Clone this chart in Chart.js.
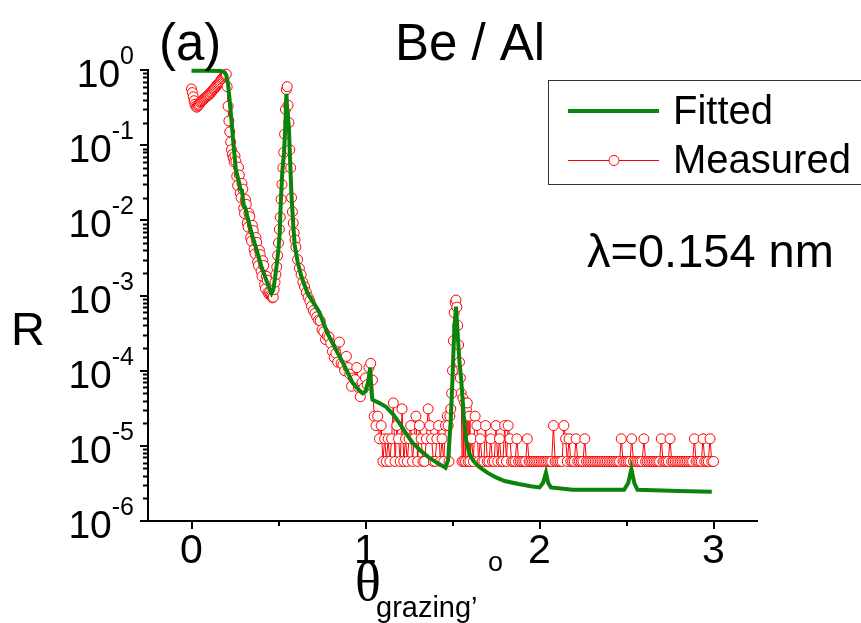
<!DOCTYPE html>
<html>
<head>
<meta charset="utf-8">
<script src="https://cdn.jsdelivr.net/npm/chart.js@4.4.1/dist/chart.umd.min.js"></script>
<style>
  body { margin: 0; background: #fff; }
  canvas { display: block; }
</style>
</head>
<body>
<canvas id="chart" width="861" height="623"></canvas>
<script>
// count levels of the measured reflectivity (1..6 counts)
const c1 = 6.2e-6, c2 = 1.24e-5, c3 = 1.86e-5, c4 = 2.48e-5, c5 = 3.1e-5, c6 = 3.72e-5;

// Measured (red circles)
const measTheta = [
  0, 0.005, 0.01, 0.015, 0.02, 0.025, 0.03, 0.035, 0.04, 0.045,
  0.05, 0.055, 0.06, 0.065, 0.07, 0.075, 0.08, 0.085, 0.09, 0.095,
  0.1, 0.105, 0.11, 0.115, 0.12, 0.125, 0.13, 0.135, 0.14, 0.145,
  0.15, 0.155, 0.16, 0.165, 0.17, 0.175, 0.18, 0.185, 0.19, 0.195,
  0.2, 0.205, 0.21, 0.215, 0.22, 0.225, 0.23, 0.235, 0.24, 0.245,
  0.25, 0.255, 0.26, 0.265, 0.27, 0.275, 0.28, 0.285, 0.29, 0.295,
  0.3, 0.305, 0.31, 0.315, 0.32, 0.325, 0.33, 0.335, 0.34, 0.345,
  0.35, 0.355, 0.36, 0.365, 0.37, 0.375, 0.38, 0.385, 0.39, 0.395,
  0.4, 0.405, 0.41, 0.415, 0.42, 0.425, 0.43, 0.435, 0.44, 0.445,
  0.45, 0.455, 0.46, 0.465, 0.47, 0.475, 0.48, 0.485, 0.49, 0.495,
  0.5, 0.505, 0.51, 0.515, 0.52, 0.525, 0.53, 0.535, 0.54, 0.545,
  0.55, 0.555, 0.56, 0.565, 0.57, 0.575, 0.58, 0.585, 0.59, 0.595,
  0.6,
  0.61, 0.62, 0.63, 0.64, 0.65, 0.66, 0.67, 0.68, 0.69, 0.7,
  0.71, 0.72, 0.73, 0.74, 0.75, 0.76, 0.77, 0.78, 0.79, 0.8,
  0.81, 0.82, 0.83, 0.84, 0.85, 0.86, 0.87, 0.88, 0.89, 0.9,
  0.91, 0.92, 0.93, 0.94, 0.95, 0.96, 0.97, 0.98, 0.99, 1.0,
  1.01, 1.02, 1.03, 1.04,
  1.05, 1.06, 1.07, 1.08, 1.09, 1.1, 1.11, 1.12, 1.13, 1.14,
  1.15, 1.16, 1.17, 1.18, 1.19, 1.2, 1.21, 1.22, 1.23, 1.24,
  1.25, 1.26, 1.27, 1.28, 1.29, 1.3, 1.31, 1.32, 1.33, 1.34,
  1.35, 1.36, 1.37, 1.38, 1.39, 1.4, 1.41, 1.42, 1.43, 1.44,
  1.45, 1.46, 1.47,
  1.475, 1.48, 1.485, 1.49, 1.495, 1.5, 1.505, 1.51, 1.515, 1.52,
  1.525, 1.53, 1.535, 1.54, 1.545, 1.55, 1.555, 1.56, 1.565, 1.57,
  1.575, 1.58, 1.585, 1.59, 1.595, 1.6,
  1.61, 1.62, 1.63, 1.64, 1.65, 1.66, 1.67, 1.68, 1.69, 1.7,
  1.71, 1.72, 1.73, 1.74, 1.75, 1.76, 1.77, 1.78, 1.79, 1.8,
  1.81, 1.82, 1.83, 1.84, 1.85, 1.86, 1.87, 1.88, 1.89, 1.9,
  1.91, 1.92, 1.93, 1.94, 1.95, 1.96, 1.97, 1.98, 1.99, 2.0,
  2.01, 2.02, 2.03, 2.04, 2.05, 2.06, 2.07, 2.08, 2.09, 2.1,
  2.11, 2.12, 2.13, 2.14, 2.15, 2.16, 2.17, 2.18, 2.19, 2.2,
  2.21, 2.22, 2.23, 2.24, 2.25, 2.26, 2.27, 2.28, 2.29, 2.3,
  2.31, 2.32, 2.33, 2.34, 2.35, 2.36, 2.37, 2.38, 2.39, 2.4,
  2.41, 2.42, 2.43, 2.44, 2.45, 2.46, 2.47, 2.48, 2.49, 2.5,
  2.51, 2.52, 2.53, 2.54, 2.55, 2.56, 2.57, 2.58, 2.59, 2.6,
  2.61, 2.62, 2.63, 2.64, 2.65, 2.66, 2.67, 2.68, 2.69, 2.7,
  2.71, 2.72, 2.73, 2.74, 2.75, 2.76, 2.77, 2.78, 2.79, 2.8,
  2.81, 2.82, 2.83, 2.84, 2.85, 2.86, 2.87, 2.88, 2.89, 2.9,
  2.91, 2.92, 2.93, 2.94, 2.95, 2.96, 2.97, 2.98, 2.99, 3.0
];
const measR = [
  0.56, 0.5, 0.44, 0.39, 0.35, 0.33, 0.32, 0.33, 0.34, 0.35,
  0.37, 0.38, 0.39, 0.4, 0.41, 0.42, 0.43, 0.44, 0.45, 0.46,
  0.47, 0.48, 0.5, 0.51, 0.53, 0.55, 0.56, 0.58, 0.6, 0.62,
  0.64, 0.66, 0.68, 0.7, 0.73, 0.76, 0.78, 0.81, 0.84, 0.86,
  0.88, 0.6, 0.33, 0.21, 0.15, 0.11, 0.087, 0.075, 0.068, 0.06,
  0.072, 0.061, 0.0385, 0.029, 0.051, 0.04, 0.023, 0.02, 0.031, 0.026,
  0.0146, 0.0123, 0.0189, 0.0163, 0.0092, 0.0081, 0.0124, 0.0112, 0.0059, 0.0053,
  0.0086, 0.0073, 0.0041, 0.0036, 0.0059, 0.0051, 0.0028, 0.0025, 0.004, 0.0035,
  0.0021, 0.0018, 0.0029, 0.0025, 0.0014, 0.00123, 0.0018, 0.0016, 0.0011, 0.00104,
  0.0011, 0.00102, 0.00098, 0.00093, 0.00095, 0.0012, 0.0015, 0.0019, 0.0024, 0.0034,
  0.005, 0.0076, 0.011, 0.019, 0.03, 0.05, 0.08, 0.14, 0.3, 0.55,
  0.6, 0.34, 0.2, 0.087, 0.05, 0.02, 0.013, 0.0092, 0.0068, 0.0055,
  0.0044,
  0.003, 0.0023, 0.0019, 0.0015, 0.0013, 0.0011, 0.00095, 0.00085, 0.00072, 0.00063,
  0.00058, 0.00052, 0.00047, 0.00046, 0.00035, 0.00033, 0.00026, 0.00029, 0.00028, 0.00023,
  0.00018, 0.00015, 0.00017, 0.00013, 0.00024, 0.000125, 0.00012, 0.0001, 0.000155, 0.00011,
  0.00009, 0.000062, 0.00008, 0.000076, 0.00011, 0.00006, 0.000045, 0.00007, 0.000059, 0.00008,
  0.000065, 0.00011, 0.000125, 0.000075,
  c4, c3, c4, c2, c3, c1, c2, c1, c2, c1,
  c2, c6, c1, c3, c2, c1, c5, c1, c2, c1,
  c2, c3, c1, c2, c4, c1, c3, c2, c1, c1,
  c2, c5, c3, c2, c1, c1, c2, c3, c1, c2,
  c1, c3, c4,
  c3, c1, c4, c5, 0.00005, 0.0001, 0.00025, 0.00059, 0.0008, 0.00087,
  0.0007, 0.0004, 0.00022, 0.00013, 0.00008, 0.00005, c1, 0.000043, c1, c6,
  c1, c5, c6, c1, c4, c1,
  c2, c1, c4, c3, c1, c2, c1, c1, c3, c1,
  c1, c2, c1, c1, c3, c1, c2, c1, c1, c3,
  c1, c3, c2, c1, c1, c1, c2, c1, c1, c1,
  c1, c1, c2, c1, c1, c1, c1, c1, c1, c1,
  c1, c1, c1, c1, c1, c1, c1, c3, c1, c1,
  c1, c1, c1, c3, c2, c1, c2, c1, c1, c1,
  c2, c1, c1, c1, c1, c2, c1, c1, c1, c1,
  c1, c1, c1, c1, c1, c1, c1, c1, c1, c1,
  c1, c1, c1, c1, c1, c1, c2, c1, c1, c1,
  c1, c1, c2, c1, c1, c1, c1, c1, c1, c2,
  c1, c1, c1, c1, c1, c1, c1, c1, c1, c2,
  c1, c1, c1, c1, c2, c1, c1, c1, c1, c1,
  c1, c1, c1, c1, c1, c1, c1, c1, c2, c1,
  c1, c1, c1, c2, c1, c1, c1, c2, c1, c1
];

// Fitted (green line)
const fitTheta = [
  0, 0.1, 0.17, 0.19, 0.2, 0.21, 0.22, 0.23, 0.24, 0.255,
  0.275, 0.28, 0.29, 0.3, 0.31, 0.32, 0.345, 0.375, 0.4, 0.43,
  0.447, 0.46, 0.47, 0.48, 0.49, 0.5, 0.507, 0.513, 0.522, 0.532,
  0.54, 0.545, 0.55, 0.56, 0.565, 0.574, 0.585, 0.593, 0.61, 0.631,
  0.667, 0.717, 0.736, 0.78, 0.83, 0.88, 0.926, 0.96, 0.983, 1.0,
  1.015, 1.027, 1.035, 1.04, 1.08, 1.118, 1.16, 1.195, 1.23, 1.27,
  1.32, 1.367, 1.42, 1.46, 1.475, 1.49, 1.5, 1.51, 1.52, 1.53,
  1.54, 1.55, 1.565, 1.578, 1.59, 1.6, 1.62, 1.65, 1.7, 1.75,
  1.8, 1.88, 1.95, 2.0, 2.02, 2.037, 2.05, 2.065, 2.19, 2.3,
  2.486, 2.51, 2.528, 2.545, 2.563, 2.8, 2.99
];
const fitR = [
  0.98, 0.98, 0.97, 0.93, 0.85, 0.65, 0.38, 0.21, 0.11, 0.047,
  0.031, 0.026, 0.025, 0.016, 0.0145, 0.0115, 0.0068, 0.004, 0.0025, 0.0016,
  0.00125, 0.00107, 0.0012, 0.0017, 0.0026, 0.0042, 0.0068, 0.017, 0.045, 0.08,
  0.2, 0.48, 0.3, 0.17, 0.08, 0.023, 0.0085, 0.0047, 0.0028, 0.0018,
  0.00107, 0.0007, 0.00059, 0.00032, 0.00019, 0.000115, 0.000069, 0.000056, 0.00005, 0.000053,
  0.00007, 0.00011, 0.00005, 0.000041, 0.000037, 0.000033, 0.000026, 0.00002, 0.000015, 0.000011,
  0.0000085, 0.0000069, 0.0000058, 0.0000051, 0.0000065, 0.000022, 0.00008, 0.00035, 0.00071, 0.0003,
  0.00013, 0.000076, 0.000025, 0.000012, 0.0000092, 0.0000076, 0.0000063, 0.0000053, 0.0000044, 0.0000038,
  0.0000034, 0.0000031, 0.0000029, 0.0000028, 0.0000032, 0.0000044, 0.0000032, 0.0000028, 0.0000026, 0.0000026,
  0.0000026, 0.0000032, 0.0000049, 0.0000032, 0.0000026, 0.0000025, 0.00000245
];

// axis ticks
const xTickValues = [0, 1, 2, 3];
const xTickLabels = ["0", "1", "2", "3"];
const xMinorTicks = [0.5, 1.5, 2.5];
const yTickValues = [1, 0.1, 0.01, 0.001, 0.0001, 0.00001, 0.000001];
const yTickExps = ["0", "-1", "-2", "-3", "-4", "-5", "-6"];

const SANS = "'Liberation Sans', Arial, sans-serif";
const SERIF = "'Liberation Serif', 'Times New Roman', serif";

const decor = {
  id: "decor",
  afterDraw(chart) {
    const { ctx, chartArea: a, scales } = chart;
    const x = scales.x, y = scales.y;
    ctx.save();

    // tick marks (outside)
    ctx.strokeStyle = "#000";
    ctx.lineWidth = 2;
    ctx.beginPath();
    xTickValues.forEach(v => {
      const px = Math.round(x.getPixelForValue(v));
      ctx.moveTo(px, a.bottom); ctx.lineTo(px, a.bottom + 8);
    });
    xMinorTicks.forEach(v => {
      const px = Math.round(x.getPixelForValue(v));
      ctx.moveTo(px, a.bottom); ctx.lineTo(px, a.bottom + 5);
    });
    yTickValues.forEach((v, i) => {
      const py = Math.round(y.getPixelForValue(v));
      ctx.moveTo(a.left - 8, py); ctx.lineTo(a.left, py);
      if (i > 0) {
        for (let m = 2; m <= 9; m++) {
          const pm = Math.round(y.getPixelForValue(v * m)) + 0.5;
          ctx.moveTo(a.left - 5, pm); ctx.lineTo(a.left, pm);
        }
      }
    });
    ctx.stroke();

    ctx.fillStyle = "#000";
    ctx.textBaseline = "alphabetic";

    // y tick labels 10^n
    yTickValues.forEach((v, i) => {
      const py = y.getPixelForValue(v);
      ctx.font = "25px " + SANS;
      const ws = ctx.measureText(yTickExps[i]).width;
      ctx.font = "39px " + SANS;
      const wb = ctx.measureText("10").width;
      const right = 134;
      ctx.textAlign = "left";
      ctx.fillText("10", right - ws - wb, py + 17);
      ctx.font = "25px " + SANS;
      ctx.fillText(yTickExps[i], right - ws, py - 6);
    });

    // x tick labels
    ctx.font = "41px " + SANS;
    ctx.textAlign = "center";
    xTickValues.forEach((v, i) => {
      ctx.fillText(xTickLabels[i], x.getPixelForValue(v), 563);
    });

    // axis titles
    ctx.font = "54px " + SERIF;
    ctx.fillText("\u03b8", 368, 600);
    ctx.font = "29px " + SANS;
    ctx.textAlign = "left";
    ctx.fillText("grazing\u2019", 376, 617);
    ctx.font = "27px " + SANS;
    ctx.fillText("o", 488, 571);

    ctx.font = "47px " + SANS;
    ctx.fillText("R", 11, 345);

    // header texts
    ctx.font = "51px " + SANS;
    ctx.fillText("(a)", 159, 60);
    ctx.textAlign = "center";
    ctx.fillText("Be / Al", 470, 60);
    ctx.textAlign = "left";
    ctx.font = "47px " + SANS;
    ctx.fillText("\u03bb=0.154 nm", 587, 267);

    // legend
    ctx.strokeStyle = "#333";
    ctx.lineWidth = 1;
    ctx.strokeRect(548.5, 80.5, 330, 104);
    const ds = chart.data.datasets;
    ctx.strokeStyle = ds[0].borderColor;
    ctx.lineWidth = ds[0].borderWidth;
    ctx.beginPath(); ctx.moveTo(568, 111); ctx.lineTo(659, 111); ctx.stroke();
    ctx.strokeStyle = ds[1].borderColor;
    ctx.lineWidth = 1;
    ctx.beginPath(); ctx.moveTo(568, 160.5); ctx.lineTo(659, 160.5); ctx.stroke();
    ctx.beginPath(); ctx.arc(614, 160.5, 5, 0, Math.PI * 2);
    ctx.fillStyle = "#fff"; ctx.fill(); ctx.stroke();
    ctx.fillStyle = "#000";
    ctx.font = "40px " + SANS;
    ctx.textBaseline = "middle";
    ctx.fillText(ds[0].label, 673, 113);
    ctx.fillText(ds[1].label, 673, 162);

    ctx.restore();
  }
};

new Chart(document.getElementById("chart"), {
  type: "scatter",
  data: {
    datasets: [
      {
        label: "Fitted",
        data: fitTheta.map((t, i) => ({ x: t, y: fitR[i] })),
        showLine: true,
        borderColor: "#0a840a",
        borderWidth: 4,
        pointRadius: 0,
        tension: 0,
        clip: false,
        order: 0
      },
      {
        label: "Measured",
        data: measTheta.map((t, i) => ({ x: t, y: measR[i] })),
        showLine: true,
        borderColor: "#ff0000",
        borderWidth: 1,
        pointRadius: 5,
        pointBorderWidth: 1,
        pointBackgroundColor: "#ffffff",
        pointBorderColor: "#ff0000",
        tension: 0,
        clip: false,
        order: 1
      }
    ]
  },
  options: {
    responsive: false,
    animation: false,
    layout: { padding: { left: 148, right: 104, top: 70, bottom: 102 } },
    plugins: { legend: { display: false }, tooltip: { enabled: false } },
    scales: {
      x: {
        type: "linear",
        min: -0.25,
        max: 3.25,
        grid: { display: false, drawTicks: false },
        border: { display: true, color: "#000", width: 2 },
        ticks: { display: false }
      },
      y: {
        type: "logarithmic",
        min: 0.000001,
        max: 1,
        grid: { display: false, drawTicks: false },
        border: { display: true, color: "#000", width: 2 },
        ticks: { display: false }
      }
    }
  },
  plugins: [decor]
});
</script>
</body>
</html>
